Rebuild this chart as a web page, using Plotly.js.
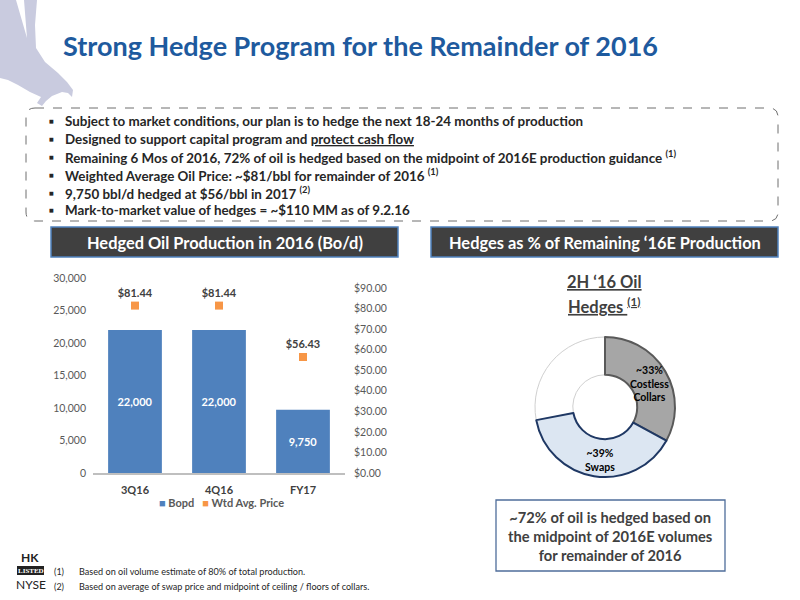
<!DOCTYPE html>
<html>
<head>
<meta charset="utf-8">
<script src="https://cdn.plot.ly/plotly-3.0.1.min.js"></script>
<style>html,body{margin:0;padding:0;background:#fff;}#chart{width:800px;height:600px;}</style>
</head>
<body>
<div id="chart"></div>
<script>
// ---- data ----
const periods = ['3Q16', '4Q16', 'FY17'];
const bopd = [22000, 22000, 9750];
const wtdPrice = [81.44, 81.44, 56.43];
const leftTicks = [0, 5000, 10000, 15000, 20000, 25000, 30000];
const rightTicks = [0, 10, 20, 30, 40, 50, 60, 70, 80, 90];
const seriesNames = ['Bopd', 'Wtd Avg. Price'];
const hedgeLabels = ['Unhedged', 'Costless Collars', 'Swaps'];
const hedgeShares = [28, 33, 39];
const bullets = [
  'Subject to market conditions, our plan is to hedge the next 18-24 months of production',
  'Designed to support capital program and <u>protect cash flow</u>',
  'Remaining 6 Mos of 2016, 72% of oil is hedged based on the midpoint of 2016E production guidance <sup>(1)</sup>',
  'Weighted Average Oil Price: ~$81/bbl for remainder of 2016 <sup>(1)</sup>',
  '9,750 bbl/d hedged at $56/bbl in 2017 <sup>(2)</sup>',
  'Mark-to-market value of hedges = ~$110 MM as of 9.2.16'
];
const footnotes = [
  'Based on oil volume estimate of 80% of total production.',
  'Based on average of swap price and midpoint of ceiling / floors of collars.'
];

// ---- helpers (pixel -> paper) ----
const W = 800, H = 600;
const px = x => x / W;
const py = y => 1 - y / H;
const FONT = 'Lato, "Open Sans", sans-serif';
const BLUE = '#4F81BD', ORANGE = '#F79646';

const annotations = [];
const shapes = [];
function txt(x, y, text, opts) {
  annotations.push(Object.assign({
    xref: 'paper', yref: 'paper', x: px(x), y: py(y), text: text, showarrow: false,
    xanchor: 'center', yanchor: 'middle',
    font: {family: FONT, size: 12, color: '#262626'}
  }, opts || {}));
}

// Eagle silhouette (decorative)
const eagle = [[0,0],[16,0],[27,38],[24,0],[37,0],[35,25],[36,48],[45,62],[58,73],[67,82],[73,90],[72,97],[68,93],[62,92],[52,96],[46,101],[42,106],[37,103],[41,97],[30,92],[18,85],[8,80],[0,78]];
shapes.push({type: 'path', xref: 'paper', yref: 'paper',
  path: 'M ' + eagle.map(p => px(p[0]) + ',' + py(p[1])).join(' L ') + ' Z',
  fillcolor: '#C9CBDF', line: {width: 0}, layer: 'below'});

// Dashed rounded box
(function(){
  const x0 = 26, x1 = 778, y0 = 108, y1 = 221, r = 9;
  const p = (x, y) => px(x) + ',' + py(y);
  const path = 'M ' + p(x0 + r, y0) + ' L ' + p(x1 - r, y0) + ' Q ' + p(x1, y0) + ' ' + p(x1, y0 + r) +
    ' L ' + p(x1, y1 - r) + ' Q ' + p(x1, y1) + ' ' + p(x1 - r, y1) +
    ' L ' + p(x0 + r, y1) + ' Q ' + p(x0, y1) + ' ' + p(x0, y1 - r) +
    ' L ' + p(x0, y0 + r) + ' Q ' + p(x0, y0) + ' ' + p(x0 + r, y0) + ' Z';
  shapes.push({type: 'path', xref: 'paper', yref: 'paper', path: path,
    line: {color: '#6F6F6F', width: 1, dash: 'dash'}});
})();

// Bullets
const bulletY = [121, 139, 157, 175, 193, 210];
bullets.forEach((b, i) => {
  txt(51, bulletY[i], '■', {font: {family: 'DejaVu Sans', size: 5, color: '#262626'}});
  txt(63, bulletY[i], b, {xanchor: 'left', font: {family: FONT, size: 13.4, color: '#262626', weight: 'bold'}});
});

// Header boxes
function header(x0, x1, text) {
  shapes.push({type: 'rect', xref: 'paper', yref: 'paper', x0: px(x0), x1: px(x1), y0: py(257), y1: py(227),
    fillcolor: '#404040', line: {color: BLUE, width: 1.5}});
  txt((x0 + x1) / 2, 242, text, {font: {family: FONT, size: 16.4, color: '#FFFFFF', weight: 'bold'}});
}
header(51, 398, 'Hedged Oil Production in 2016 (Bo/d)');
header(431, 778, 'Hedges as % of Remaining ‘16E Production');

// Donut subtitle
txt(604, 282, '<u>2H ‘16 Oil</u>', {font: {family: FONT, size: 16.5, color: '#404040', weight: 'bold'}});
txt(604, 306, '<u>Hedges <sup>(1)</sup></u>', {font: {family: FONT, size: 16.5, color: '#404040', weight: 'bold'}});

// Donut labels
txt(649, 383, '~33%<br>Costless<br>Collars', {font: {family: FONT, size: 10.5, color: '#000000', weight: 'bold'}});
txt(600, 460, '~39%<br>Swaps', {font: {family: FONT, size: 10.5, color: '#000000', weight: 'bold'}});

// Callout box
shapes.push({type: 'rect', xref: 'paper', yref: 'paper', x0: px(496), x1: px(725), y0: py(571), y1: py(500),
  fillcolor: '#FFFFFF', line: {color: '#4F6D9A', width: 1.3}});
txt(610, 536, '~72% of oil is hedged based on<br>the midpoint of 2016E volumes<br>for remainder of 2016',
  {font: {family: FONT, size: 14.7, color: '#404040', weight: 'bold'}});

// Chart legend (text with coloured squares)
txt(221, 502, '<span style="color:' + BLUE + '">■</span> ' + seriesNames[0] +
  '   <span style="color:' + ORANGE + '">■</span> ' + seriesNames[1],
  {font: {family: FONT, size: 11, color: '#595959', weight: 'bold'}});

// Footnotes
footnotes.forEach((f, i) => {
  const y = 571 + i * 15;
  txt(52, y, '(' + (i + 1) + ')', {xanchor: 'left', font: {family: FONT, size: 9, color: '#262626'}});
  txt(77, y, f, {xanchor: 'left', font: {family: FONT, size: 9.1, color: '#262626'}});
});

// HK / LISTED / NYSE logo
txt(30, 557, 'HK', {font: {family: FONT, size: 12, color: '#222', weight: 'bold'}});
shapes.push({type: 'rect', xref: 'paper', yref: 'paper', x0: px(17), x1: px(44), y0: py(575), y1: py(566),
  fillcolor: '#222', line: {width: 0}});
txt(30.5, 570.5, 'LISTED', {font: {family: 'Liberation Serif', size: 7, color: '#FFFFFF', weight: 'bold'}});
txt(31, 584, 'NYSE', {font: {family: FONT, size: 12, color: '#222'}});

// ---- traces ----
const traces = [
  {type: 'bar', name: seriesNames[0], x: periods, y: bopd, xaxis: 'x', yaxis: 'y',
    marker: {color: BLUE},
    text: bopd.map(v => v.toLocaleString('en-US')), textposition: 'inside', insidetextanchor: 'middle',
    textfont: {family: FONT, size: 11, color: '#FFFFFF', weight: 'bold'}, textangle: 0,
    hoverinfo: 'skip'},
  {type: 'scatter', name: seriesNames[1], x: periods, y: wtdPrice, xaxis: 'x', yaxis: 'y2',
    mode: 'markers+text', marker: {symbol: 'square', size: 8, color: ORANGE},
    text: wtdPrice.map(v => '$' + v.toFixed(2)), textposition: 'top center',
    textfont: {family: FONT, size: 11, color: '#404040', weight: 'bold'}, cliponaxis: false},
  {type: 'pie', labels: hedgeLabels, values: hedgeShares, hole: 0.46, sort: false,
    direction: 'clockwise', rotation: 259.2, textinfo: 'none', showlegend: false,
    domain: {x: [px(535), px(675)], y: [py(477), py(337)]},
    marker: {colors: ['#FFFFFF', '#A6A6A6', '#DCE6F2'],
      line: {color: ['#D0D0D0', '#595959', '#1F3864'], width: [1, 2, 2]}}}
];

const layout = {
  width: W, height: H, margin: {l: 0, r: 0, t: 0, b: 0},
  paper_bgcolor: '#FFFFFF', plot_bgcolor: 'rgba(0,0,0,0)',
  font: {family: FONT, color: '#595959'},
  title: {text: 'Strong Hedge Program for the Remainder of 2016', x: px(63), xanchor: 'left',
    y: py(47), yanchor: 'middle', font: {family: FONT, size: 27, color: '#1E5A9E', weight: 'bold'}},
  showlegend: false,
  bargap: 0.36,
  xaxis: {domain: [px(93), px(345)], anchor: 'y', type: 'category', showline: true, linecolor: '#BFBFBF',
    linewidth: 1.5, ticks: '', showgrid: false, zeroline: false, ticklabelstandoff: 6,
    tickfont: {family: FONT, size: 11, color: '#404040', weight: 'bold'}},
  yaxis: {domain: [py(473), py(278)], anchor: 'x', range: [0, 30000], tickvals: leftTicks, tickformat: ',',
    showgrid: false, zeroline: false, showline: false, ticks: '', ticklabelstandoff: 6,
    tickfont: {family: FONT, size: 10.5, color: '#595959'}},
  yaxis2: {overlaying: 'y', side: 'right', anchor: 'x', range: [0, 90 * 195 / 185], tickvals: rightTicks,
    tickformat: '$.2f', showgrid: false, zeroline: false, showline: false, ticks: '', ticklabelstandoff: 8,
    tickfont: {family: FONT, size: 10.5, color: '#595959'}},
  annotations: annotations,
  shapes: shapes
};

Plotly.newPlot('chart', traces, layout, {displayModeBar: false, staticPlot: true});
</script>
</body>
</html>
